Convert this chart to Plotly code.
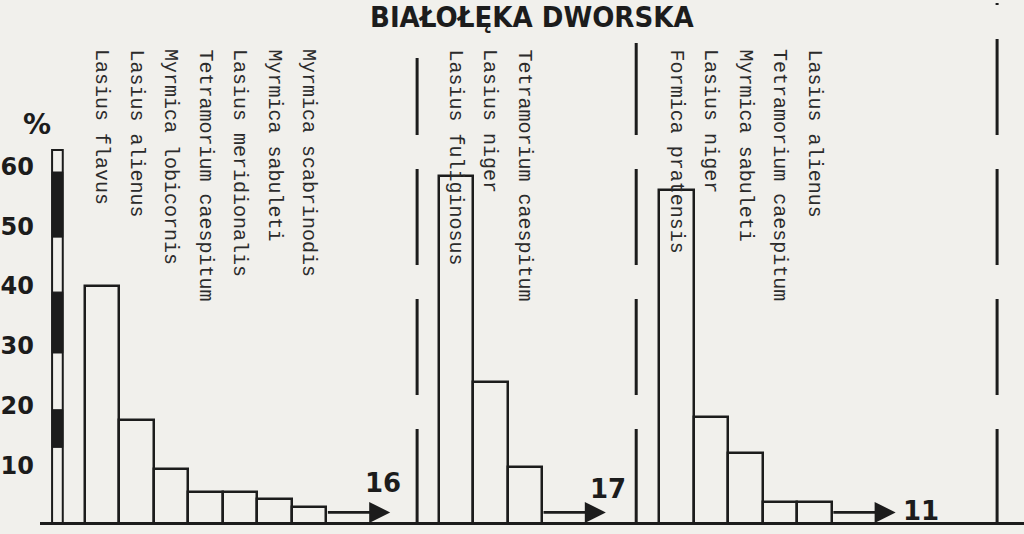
import plotly.graph_objects as go

# values (% of nests), three sites
g1_species = ["Lasius flavus", "Lasius alienus", "Myrmica lobicornis",
              "Tetramorium caespitum", "Lasius meridionalis",
              "Myrmica sabuleti", "Myrmica scabrinodis"]
g1_values = [40.0, 17.6, 9.4, 5.5, 5.5, 4.4, 3.0]
g1_rest = "16"

g2_species = ["Lasius fuliginosus", "Lasius niger", "Tetramorium caespitum"]
g2_values = [58.5, 24.0, 9.7]
g2_rest = "17"

g3_species = ["Formica pratensis", "Lasius niger", "Myrmica sabuleti",
              "Tetramorium caespitum", "Lasius alienus"]
g3_values = [56.1, 18.1, 12.1, 3.9, 3.9]
g3_rest = "11"

y_ticks = [10, 20, 30, 40, 50, 60]
title = "BIAŁOŁĘKA DWORSKA"

# layout
paper = "#f1f0ec"
ink = "#1c1c1c"
# (species, values, rest count, first bar x, label dx, label y, anchor)
groups = [(g1_species, g1_values, g1_rest, 1.0, -0.2, 7.0, "center"),
          (g2_species, g2_values, g2_rest, 11.25, 0.05, 6.0, "center"),
          (g3_species, g3_values, g3_rest, 17.65, 0.15, 2.4, "left")]
separators = [(10.13, 78.2), (16.48, 80.7), (26.94, 87.4)]
scale_bands = [(13, 19.3), (28.8, 39), (48.2, 59.1)]

fig = go.Figure()
annotations = []
shapes = []

for species, values, rest, start, dx, ty, xa in groups:
    xs = [start + i for i in range(len(values))]
    fig.add_trace(go.Bar(
        x=xs, y=values, width=1,
        marker=dict(color=paper, line=dict(color=ink, width=2.5)),
        showlegend=False, hoverinfo="skip"))
    for x, name in zip(xs, species):
        annotations.append(dict(
            x=x, y=80.0, xref="x", yref="y", text=name, showarrow=False,
            textangle=90, xanchor="center", yanchor="top",
            font=dict(family="Liberation Mono, DejaVu Sans Mono, monospace",
                      size=20, color="#2b2b2b")))
    x_tail = xs[-1] + 0.5
    x_head = x_tail + 1.85
    annotations.append(dict(
        x=x_head, y=2.1, ax=x_tail, ay=2.1, xref="x", yref="y",
        axref="x", ayref="y", text="", showarrow=True,
        arrowhead=2, arrowsize=1.5, arrowwidth=2.8, arrowcolor=ink,
        standoff=0, startstandoff=0))
    annotations.append(dict(
        x=x_head + dx, y=ty, xref="x", yref="y", text=rest, showarrow=False,
        xanchor=xa, yanchor="middle",
        font=dict(family="DejaVu Sans", size=26, color=ink, weight="bold")))

# dashed separators between sites
for x, top in separators:
    shapes.append(dict(type="line", xref="x", yref="y", x0=x, x1=x,
                       y0=0, y1=top,
                       line=dict(color=ink, width=3, dash="96px,34px")))

# percentage scale bar drawn as the y axis
shapes.append(dict(type="rect", xref="x", yref="y", x0=-0.45, x1=-0.14,
                   y0=0, y1=62.8, line=dict(color=ink, width=2),
                   fillcolor=paper))
for lo, hi in scale_bands:
    shapes.append(dict(type="rect", xref="x", yref="y", x0=-0.45, x1=-0.14,
                       y0=lo, y1=hi, line=dict(color=ink, width=1),
                       fillcolor=ink))

# baseline
shapes.append(dict(type="line", xref="paper", yref="y", x0=0, x1=1,
                   y0=0, y1=0, line=dict(color=ink, width=6)))

annotations.append(dict(
    x=0.5, y=0.968, xref="paper", yref="paper", text=title,
    showarrow=False, xanchor="center", yanchor="middle",
    font=dict(family="DejaVu Sans Condensed, DejaVu Sans", size=29,
              color=ink, weight="bold")))
annotations.append(dict(
    x=-0.003, y=0.762, xref="paper", yref="paper", text="%",
    showarrow=False, xanchor="center", yanchor="middle",
    font=dict(family="DejaVu Sans", size=28, color=ink, weight="bold")))

fig.update_layout(
    width=1024, height=534,
    margin=dict(l=40, r=0, t=0, b=9),
    paper_bgcolor=paper, plot_bgcolor=paper,
    bargap=0, shapes=shapes, annotations=annotations,
    xaxis=dict(range=[-0.8, 27.72], visible=False, fixedrange=True,
               automargin=False),
    yaxis=dict(range=[0, 87.9], tickvals=y_ticks, showgrid=False,
               zeroline=False, showline=False, ticks="", automargin=False,
               ticklabelstandoff=5,
               tickfont=dict(family="DejaVu Sans", size=24, color=ink,
                             weight="bold")),
)

fig.write_html("out.html", config={"displayModeBar": False},
               post_script="document.body.style.margin='0';"
                           "document.body.style.overflow='hidden';")
